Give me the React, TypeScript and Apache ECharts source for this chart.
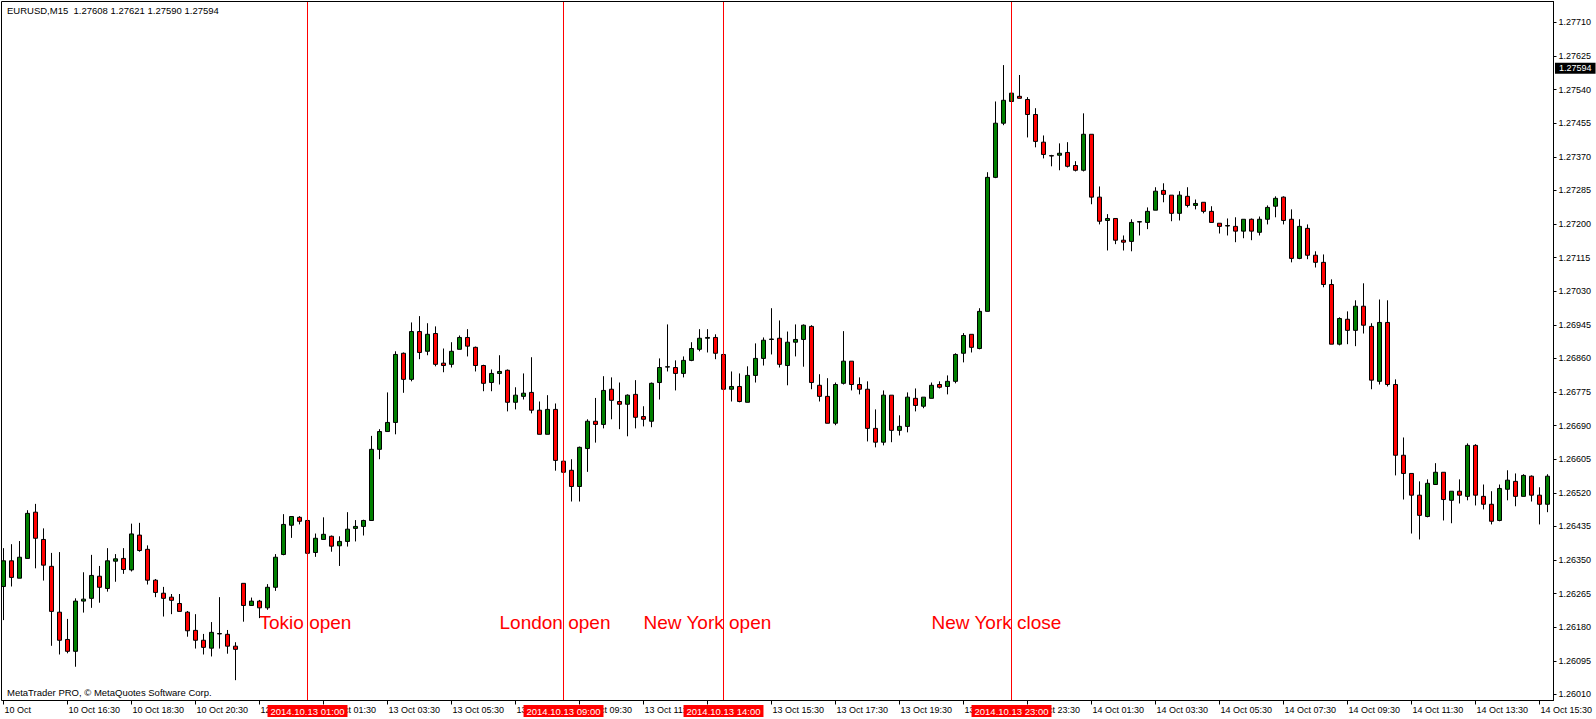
import React, { useEffect, useRef } from 'react';
import * as echarts from 'echarts';

const opens = [
  1.26283, 1.26348, 1.26304, 1.26354, 1.26471, 1.26402, 1.26334, 1.26218, 1.26149, 1.26119,
  1.26246, 1.26253, 1.26309, 1.26278, 1.26347, 1.26354, 1.26325, 1.26413, 1.26377, 1.26299,
  1.26266, 1.26256, 1.26240, 1.26218, 1.26172, 1.26147, 1.26127, 1.26163, 1.26162, 1.26132,
  1.26291, 1.26235, 1.26246, 1.26229, 1.26281, 1.26364, 1.26438, 1.26458, 1.26450, 1.26369,
  1.26402, 1.26410, 1.26386, 1.26397, 1.26430, 1.26435, 1.26450, 1.26630, 1.26675, 1.26698,
  1.26873, 1.26807, 1.26928, 1.26878, 1.26923, 1.26848, 1.26845, 1.26883, 1.26913, 1.26888,
  1.26842, 1.26799, 1.26822, 1.26830, 1.26749, 1.26764, 1.26774, 1.26729, 1.26668, 1.26731,
  1.26600, 1.26577, 1.26536, 1.26632, 1.26701, 1.26693, 1.26782, 1.26751, 1.26744, 1.26769,
  1.26713, 1.26701, 1.26799, 1.26838, 1.26837, 1.26822, 1.26855, 1.26883, 1.26911, 1.26913,
  1.26870, 1.26782, 1.26789, 1.26749, 1.26817, 1.26860, 1.26908, 1.26911, 1.26842, 1.26901,
  1.26908, 1.26941, 1.26792, 1.26764, 1.26696, 1.26797, 1.26853, 1.26794, 1.26782, 1.26683,
  1.26648, 1.26767, 1.26678, 1.26688, 1.26759, 1.26739, 1.26759, 1.26794, 1.26789, 1.26802,
  1.26873, 1.26921, 1.26885, 1.26979, 1.27318, 1.27455, 1.27510, 1.27523, 1.27515, 1.27477,
  1.27407, 1.27373, 1.27374, 1.27381, 1.27348, 1.27336, 1.27427, 1.27268, 1.27209, 1.27214,
  1.27159, 1.27156, 1.27205, 1.27204, 1.27235, 1.27285, 1.27273, 1.27227, 1.27270, 1.27247,
  1.27255, 1.27232, 1.27202, 1.27195, 1.27194, 1.27182, 1.27212, 1.27179, 1.27212, 1.27245,
  1.27268, 1.27212, 1.27113, 1.27189, 1.27121, 1.27103, 1.27047, 1.26896, 1.26959, 1.26931,
  1.26992, 1.26941, 1.26802, 1.26951, 1.26794, 1.26615, 1.26569, 1.26514, 1.26460, 1.26541,
  1.26572, 1.26501, 1.26524, 1.26511, 1.26640, 1.26511, 1.26491, 1.26450, 1.26529, 1.26549,
  1.26511, 1.26562, 1.26514, 1.26491,
];

const closes = [
  1.26348, 1.26306, 1.26357, 1.26468, 1.26405, 1.26337, 1.26220, 1.26147, 1.26119, 1.26246,
  1.26251, 1.26311, 1.26281, 1.26348, 1.26353, 1.26326, 1.26416, 1.26374, 1.26299, 1.26268,
  1.26253, 1.26248, 1.26220, 1.26171, 1.26147, 1.26129, 1.26167, 1.26164, 1.26132, 1.26124,
  1.26235, 1.26246, 1.26229, 1.26281, 1.26357, 1.26440, 1.26460, 1.26448, 1.26367, 1.26405,
  1.26415, 1.26385, 1.26397, 1.26428, 1.26435, 1.26450, 1.26630, 1.26675, 1.26698, 1.26870,
  1.26807, 1.26928, 1.26875, 1.26921, 1.26845, 1.26842, 1.26878, 1.26913, 1.26891, 1.26842,
  1.26797, 1.26822, 1.26827, 1.26749, 1.26767, 1.26772, 1.26729, 1.26668, 1.26731, 1.26602,
  1.26572, 1.26536, 1.26635, 1.26701, 1.26693, 1.26779, 1.26754, 1.26744, 1.26767, 1.26711,
  1.26706, 1.26797, 1.26837, 1.26839, 1.26822, 1.26855, 1.26885, 1.26911, 1.26913, 1.26873,
  1.26782, 1.26789, 1.26751, 1.26817, 1.26860, 1.26906, 1.26909, 1.26845, 1.26901, 1.26908,
  1.26944, 1.26799, 1.26764, 1.26696, 1.26794, 1.26853, 1.26794, 1.26782, 1.26683, 1.26648,
  1.26767, 1.26678, 1.26688, 1.26762, 1.26741, 1.26762, 1.26792, 1.26787, 1.26802, 1.26870,
  1.26918, 1.26888, 1.26979, 1.27318, 1.27455, 1.27513, 1.27531, 1.27518, 1.27477, 1.27409,
  1.27376, 1.27372, 1.27379, 1.27346, 1.27336, 1.27427, 1.27268, 1.27207, 1.27214, 1.27159,
  1.27154, 1.27204, 1.27206, 1.27232, 1.27283, 1.27275, 1.27227, 1.27273, 1.27247, 1.27252,
  1.27232, 1.27204, 1.27194, 1.27196, 1.27182, 1.27212, 1.27182, 1.27212, 1.27242, 1.27265,
  1.27209, 1.27113, 1.27194, 1.27121, 1.27103, 1.27047, 1.26896, 1.26961, 1.26931, 1.26992,
  1.26944, 1.26805, 1.26951, 1.26794, 1.26615, 1.26569, 1.26514, 1.26463, 1.26544, 1.26572,
  1.26503, 1.26524, 1.26514, 1.26640, 1.26514, 1.26491, 1.26448, 1.26531, 1.26552, 1.26511,
  1.26564, 1.26514, 1.26491, 1.26562,
];

const lows = [
  1.26198, 1.26283, 1.26304, 1.26354, 1.26329, 1.26298, 1.26133, 1.26111, 1.26114, 1.26080,
  1.26217, 1.26229, 1.26242, 1.26270, 1.26295, 1.26315, 1.26321, 1.26371, 1.26288, 1.26256,
  1.26207, 1.26213, 1.26220, 1.26156, 1.26126, 1.26111, 1.26106, 1.26126, 1.26113, 1.26046,
  1.26194, 1.26235, 1.26203, 1.26224, 1.26272, 1.26362, 1.26406, 1.26440, 1.26363, 1.26358,
  1.26402, 1.26371, 1.26335, 1.26384, 1.26397, 1.26412, 1.26450, 1.26605, 1.26675, 1.26668,
  1.26773, 1.26802, 1.26858, 1.26868, 1.26840, 1.26825, 1.26837, 1.26883, 1.26865, 1.26827,
  1.26777, 1.26777, 1.26794, 1.26726, 1.26731, 1.26756, 1.26721, 1.26668, 1.26668, 1.26576,
  1.26569, 1.26498, 1.26498, 1.26573, 1.26647, 1.26683, 1.26706, 1.26681, 1.26663, 1.26683,
  1.26688, 1.26686, 1.26756, 1.26827, 1.26779, 1.26812, 1.26853, 1.26878, 1.26875, 1.26858,
  1.26780, 1.26751, 1.26749, 1.26749, 1.26799, 1.26842, 1.26870, 1.26837, 1.26792, 1.26865,
  1.26839, 1.26782, 1.26751, 1.26696, 1.26691, 1.26794, 1.26779, 1.26769, 1.26650, 1.26635,
  1.26640, 1.26648, 1.26665, 1.26673, 1.26726, 1.26734, 1.26759, 1.26784, 1.26769, 1.26797,
  1.26850, 1.26875, 1.26883, 1.26979, 1.27316, 1.27450, 1.27509, 1.27518, 1.27419, 1.27394,
  1.27366, 1.27346, 1.27336, 1.27343, 1.27333, 1.27333, 1.27250, 1.27199, 1.27133, 1.27149,
  1.27133, 1.27131, 1.27171, 1.27187, 1.27235, 1.27255, 1.27207, 1.27209, 1.27242, 1.27237,
  1.27227, 1.27204, 1.27176, 1.27171, 1.27154, 1.27164, 1.27159, 1.27171, 1.27199, 1.27217,
  1.27199, 1.27103, 1.27111, 1.27111, 1.27090, 1.27040, 1.26896, 1.26893, 1.26896, 1.26891,
  1.26923, 1.26782, 1.26794, 1.26789, 1.26564, 1.26503, 1.26417, 1.26402, 1.26458, 1.26541,
  1.26450, 1.26443, 1.26493, 1.26501, 1.26488, 1.26478, 1.26440, 1.26448, 1.26501, 1.26486,
  1.26511, 1.26498, 1.26440, 1.26471,
];

const highs = [
  1.26380, 1.26390, 1.26398, 1.26476, 1.26492, 1.26430, 1.26368, 1.26370, 1.26201, 1.26253,
  1.26319, 1.26363, 1.26335, 1.26380, 1.26365, 1.26380, 1.26442, 1.26444, 1.26387, 1.26302,
  1.26282, 1.26264, 1.26264, 1.26221, 1.26213, 1.26163, 1.26193, 1.26256, 1.26173, 1.26142,
  1.26291, 1.26255, 1.26249, 1.26289, 1.26365, 1.26466, 1.26460, 1.26461, 1.26453, 1.26417,
  1.26458, 1.26412, 1.26410, 1.26471, 1.26451, 1.26452, 1.26664, 1.26681, 1.26774, 1.26878,
  1.26875, 1.26951, 1.26967, 1.26949, 1.26941, 1.26885, 1.26901, 1.26918, 1.26934, 1.26890,
  1.26844, 1.26832, 1.26868, 1.26832, 1.26787, 1.26822, 1.26863, 1.26751, 1.26767, 1.26746,
  1.26602, 1.26605, 1.26637, 1.26706, 1.26760, 1.26815, 1.26812, 1.26799, 1.26769, 1.26805,
  1.26739, 1.26799, 1.26860, 1.26946, 1.26855, 1.26865, 1.26901, 1.26934, 1.26934, 1.26921,
  1.26872, 1.26827, 1.26822, 1.26840, 1.26898, 1.26913, 1.26987, 1.26956, 1.26928, 1.26946,
  1.26946, 1.26944, 1.26820, 1.26810, 1.26799, 1.26929, 1.26853, 1.26812, 1.26802, 1.26731,
  1.26779, 1.26767, 1.26716, 1.26774, 1.26784, 1.26762, 1.26799, 1.26802, 1.26817, 1.26873,
  1.26924, 1.26921, 1.26987, 1.27331, 1.27510, 1.27602, 1.27532, 1.27577, 1.27521, 1.27493,
  1.27424, 1.27375, 1.27404, 1.27407, 1.27359, 1.27480, 1.27427, 1.27295, 1.27225, 1.27214,
  1.27171, 1.27212, 1.27207, 1.27242, 1.27293, 1.27303, 1.27273, 1.27283, 1.27293, 1.27262,
  1.27255, 1.27245, 1.27202, 1.27214, 1.27217, 1.27212, 1.27214, 1.27219, 1.27247, 1.27270,
  1.27270, 1.27237, 1.27212, 1.27199, 1.27131, 1.27123, 1.27060, 1.26964, 1.26979, 1.27007,
  1.27050, 1.26949, 1.27009, 1.27007, 1.26807, 1.26660, 1.26569, 1.26549, 1.26554, 1.26595,
  1.26572, 1.26524, 1.26554, 1.26645, 1.26643, 1.26541, 1.26524, 1.26541, 1.26577, 1.26569,
  1.26567, 1.26564, 1.26534, 1.26567,
];

// time labels, one every 8 bars (2 hours of M15)
const xTickLabels = [
  '10 Oct', '10 Oct 16:30', '10 Oct 18:30', '10 Oct 20:30', '12 Oct 23:30', '13 Oct 01:30',
  '13 Oct 03:30', '13 Oct 05:30', '13 Oct 07:30', '13 Oct 09:30', '13 Oct 11:30', '13 Oct 13:30',
  '13 Oct 15:30', '13 Oct 17:30', '13 Oct 19:30', '13 Oct 21:30', '13 Oct 23:30', '14 Oct 01:30',
  '14 Oct 03:30', '14 Oct 05:30', '14 Oct 07:30', '14 Oct 09:30', '14 Oct 11:30', '14 Oct 13:30',
  '14 Oct 15:30',
];

const yTicks = [
  1.26010, 1.26095, 1.26180, 1.26265, 1.26350, 1.26435, 1.26520, 1.26605, 1.26690, 1.26775,
  1.26860, 1.26945, 1.27030, 1.27115, 1.27200, 1.27285, 1.27370, 1.27455, 1.27540, 1.27625,
  1.27710,
];

const yMin = 1.259946;
const yMax = 1.277629;

const sessionIdx = [38, 70, 90, 126];
const sessionLabels = ['2014.10.13 01:00', '2014.10.13 09:00', '2014.10.13 14:00', '2014.10.13 23:00'];

const noteIdx = [32, 62, 80, 116];
const noteTexts = ['Tokio open', 'London open', 'New York open', 'New York close'];
const notePrice = 1.26191;

const lastPrice = 1.27594;
const headerText = 'EURUSD,M15  1.27608 1.27621 1.27590 1.27594';
const copyrightText = 'MetaTrader PRO, \u00A9 MetaQuotes Software Corp.';

const FONT = '"Liberation Sans", Arial, sans-serif';

export default function App() {
  const ref = useRef<HTMLDivElement>(null);

  useEffect(() => {
    const el = ref.current!;
    const chart = echarts.init(el, null, { renderer: 'svg' });
    const cats = opens.map((_, i) => String(i));
    const data = opens.map((o, i) => [o, closes[i], lows[i], highs[i]]);

    chart.setOption({
      animation: false,
      backgroundColor: '#ffffff',
      grid: { left: 3.5, right: 48.5, top: 1.5, bottom: 18.5, containLabel: false },
      xAxis: {
        type: 'category',
        data: cats,
        boundaryGap: false,
        axisLine: { show: true, onZero: false, lineStyle: { color: '#000', width: 1 } },
        axisTick: { show: true, interval: 7, length: 4, lineStyle: { color: '#000', width: 1 } },
        axisLabel: {
          interval: 7,
          formatter: (_v: string, i: number) => (i % 8 === 0 ? xTickLabels[i / 8] ?? '' : ''),
          align: 'left',
          margin: 5,
          fontSize: 9,
          color: '#000',
          fontFamily: FONT,
          padding: [0, 0, 0, 1],
        },
        splitLine: { show: false },
      },
      yAxis: {
        type: 'value',
        position: 'right',
        offset: 6,
        min: yMin,
        max: yMax,
        axisLine: { show: true, lineStyle: { color: '#000', width: 1 } },
        axisTick: { show: true, length: 3, customValues: yTicks, lineStyle: { color: '#000' } },
        axisLabel: {
          customValues: yTicks,
          formatter: (v: number) => v.toFixed(5),
          fontSize: 9,
          color: '#000',
          fontFamily: FONT,
          margin: 5,
        },
        splitLine: { show: false },
      },
      series: [
        {
          type: 'candlestick',
          data,
          barWidth: 4,
          itemStyle: {
            color: '#008000',
            color0: '#ff0000',
            borderColor: '#000000',
            borderColor0: '#000000',
            borderColorDoji: '#000000',
            borderWidth: 1,
          },
          markLine: {
            silent: true,
            symbol: ['none', 'none'],
            lineStyle: { color: '#ff0000', width: 1, type: 'solid' },
            label: { show: false },
            data: sessionIdx.map((i) => ({ xAxis: i })),
          },
        },
      ],
    });

    const px = (i: number, p: number) => chart.convertToPixel({ seriesIndex: 0 }, [i, p]) as number[];

    const graphics: any[] = [
      {
        type: 'rect',
        silent: true,
        z: 100,
        shape: { x: 1.5, y: 1.5, width: 1552, height: 699 },
        style: { fill: 'none', stroke: '#000', lineWidth: 1 },
      },
      {
        type: 'text',
        silent: true,
        x: 7,
        y: 10,
        style: {
          text: headerText,
          fill: '#000',
          fontSize: 9.5,
          fontFamily: FONT,
          align: 'left',
          verticalAlign: 'middle',
          textAlign: 'left',
          textVerticalAlign: 'middle',
        },
      },
      {
        type: 'text',
        silent: true,
        x: 7,
        y: 692,
        style: {
          text: copyrightText,
          fill: '#000',
          fontSize: 9.5,
          fontFamily: FONT,
          align: 'left',
          verticalAlign: 'middle',
          textAlign: 'left',
          textVerticalAlign: 'middle',
        },
      },
    ];

    noteIdx.forEach((idx, k) => {
      const [x, y] = px(idx, notePrice);
      graphics.push({
        type: 'text',
        silent: true,
        x,
        y,
        style: {
          text: noteTexts[k],
          fill: '#ff0000',
          fontSize: 19,
          fontFamily: FONT,
          align: 'left',
          verticalAlign: 'middle',
          textAlign: 'left',
          textVerticalAlign: 'middle',
        },
      });
    });

    sessionIdx.forEach((idx, k) => {
      const [x] = px(idx, yMin);
      graphics.push({
        type: 'text',
        silent: true,
        z: 110,
        x,
        y: 705,
        style: {
          text: sessionLabels[k],
          fill: '#ffffff',
          fontSize: 9.5,
          fontFamily: FONT,
          backgroundColor: '#ff0000',
          padding: [1, 3, 1, 3],
          align: 'center',
          verticalAlign: 'top',
          textAlign: 'center',
          textVerticalAlign: 'top',
        },
      });
    });

    const [, ly] = px(0, lastPrice);
    graphics.push({
      type: 'text',
      silent: true,
      z: 110,
      x: 1555,
      y: ly,
      style: {
        text: lastPrice.toFixed(5),
        fill: '#ffffff',
        fontSize: 9,
        fontFamily: FONT,
        backgroundColor: '#000000',
        padding: [1, 4, 1, 4],
        align: 'left',
        verticalAlign: 'middle',
        textAlign: 'left',
        textVerticalAlign: 'middle',
      },
    });

    chart.setOption({ graphic: { elements: graphics } });

    return () => {
      chart.dispose();
    };
  }, []);

  return (
    <div
      ref={ref}
      style={{ position: 'fixed', left: 0, top: 0, width: 1596, height: 719, background: '#fff' }}
    />
  );
}
